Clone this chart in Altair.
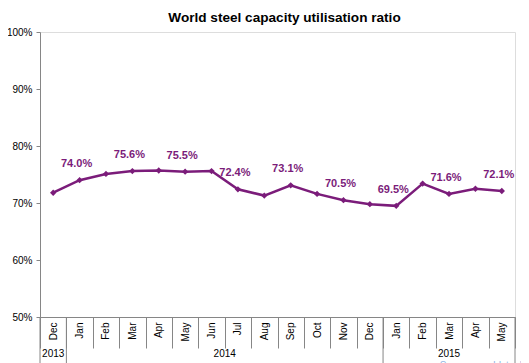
import altair as alt
import pandas as pd

months = ["Dec", "Jan", "Feb", "Mar", "Apr", "May", "Jun", "Jul", "Aug", "Sep",
          "Oct", "Nov", "Dec", "Jan", "Feb", "Mar", "Apr", "May"]
years = ["2013"] + ["2014"] * 12 + ["2015"] * 5
values = [71.8, 74.0, 75.1, 75.6, 75.7, 75.5, 75.6, 72.4, 71.3, 73.1,
          71.6, 70.5, 69.8, 69.5, 73.4, 71.6, 72.5, 72.1]
show_label = [False, True, False, True, False, True, False, True, False, True,
              False, True, False, True, False, True, False, True]
y_ticks = [0.5, 0.6, 0.7, 0.8, 0.9, 1.0]

keys = [f"{m} {y}" for m, y in zip(months, years)]
df = pd.DataFrame({
    "key": keys,
    "value": [v / 100 for v in values],
    "show": show_label,
    "label": [f"{v:.1f}%" for v in values],
})

PURPLE = "#7B1C7A"
GRAY = "#868686"
FONT = "Liberation Sans"
W, H = 475, 285

x_scale = alt.Scale(domain=keys, paddingInner=0, paddingOuter=0)
x_axis = alt.Axis(
    title=None,
    labelExpr="isValid(datum.value) ? split(datum.value, ' ')[0] : ''",
    labelAngle=270,
    labelFont=FONT,
    labelFontSize=10,
    labelColor="#000000",
    labelPadding=-26,
    tickBand="extent",
    tickSize=31,
    tickColor=GRAY,
    domainColor=GRAY,
    grid=False,
)
y_scale = alt.Scale(domain=[0.5, 1.0], nice=False, zero=False)
y_axis = alt.Axis(
    title=None,
    format=".0%",
    values=y_ticks,
    labelFont=FONT,
    labelFontSize=10,
    labelColor="#000000",
    labelPadding=4,
    tickSize=4,
    tickColor=GRAY,
    domainColor=GRAY,
    grid=False,
)

def X(band=None):
    if band is None:
        return alt.X("key:N", scale=x_scale, axis=x_axis, sort=keys)
    return alt.X("key:N", scale=x_scale, axis=x_axis, sort=keys, bandPosition=band)

Y = alt.Y("value:Q", scale=y_scale, axis=y_axis)

line = alt.Chart(df).mark_line(color=PURPLE, strokeWidth=2.5).encode(x=X(), y=Y)
pts = alt.Chart(df).mark_point(shape="diamond", filled=True, size=40,
                               color=PURPLE, opacity=1).encode(x=X(), y=Y)
labels = alt.Chart(df).transform_filter("datum.show").mark_text(
    dy=-16, dx=-3, font=FONT, fontSize=11, fontWeight="bold", color=PURPLE
).encode(x=X(), y=Y, text="label:N")

# year row
year_mid = pd.DataFrame({"key": ["Dec 2013", "Mar 2015"], "year": ["2013", "2015"]})
year_edge = pd.DataFrame({"key": ["Jul 2014"], "year": ["2014"]})
yr1 = alt.Chart(year_mid).mark_text(font=FONT, fontSize=10, color="#000000",
                                    baseline="middle").encode(
    x=X(0.5), y=alt.value(H + 37), text="year:N")
yr2 = alt.Chart(year_edge).mark_text(font=FONT, fontSize=10, color="#000000",
                                     baseline="middle").encode(
    x=X(0), y=alt.value(H + 37), text="year:N")

# year boundaries
bound_left = pd.DataFrame({"key": ["Dec 2013", "Jan 2014", "Jan 2015"]})
bound_right = pd.DataFrame({"key": ["May 2015"]})
b1 = alt.Chart(bound_left).mark_rule(color=GRAY, strokeWidth=1).encode(
    x=X(0), y=alt.value(H), y2=alt.value(H + 50))
b2 = alt.Chart(bound_right).mark_rule(color=GRAY, strokeWidth=1).encode(
    x=X(1), y=alt.value(H), y2=alt.value(H + 50))

# source note
src = pd.DataFrame({"key": ["Mar 2015"], "txt": ["Source: worldsteel"]})
source = alt.Chart(src).mark_text(font=FONT, fontSize=10, color="#8EB4E3",
                                  align="left", baseline="top", dx=4).encode(
    x=X(0), y=alt.value(H + 44), text="txt:N")

chart = alt.layer(line, pts, labels, yr1, yr2, b1, b2, source).properties(
    width=W, height=H,
    autosize=alt.AutoSizeParams(type="none"),
    padding={"left": 32, "top": 24, "right": 6, "bottom": 46},
    title=alt.TitleParams(
        "World steel capacity utilisation ratio",
        font=FONT, fontSize=13.6, fontWeight="bold", color="#000000",
        anchor="middle", dx=7, offset=2,
    ),
).configure_view(stroke=None).configure(background="white")

chart.save("out.html", embed_options={"renderer": "svg", "actions": False})
